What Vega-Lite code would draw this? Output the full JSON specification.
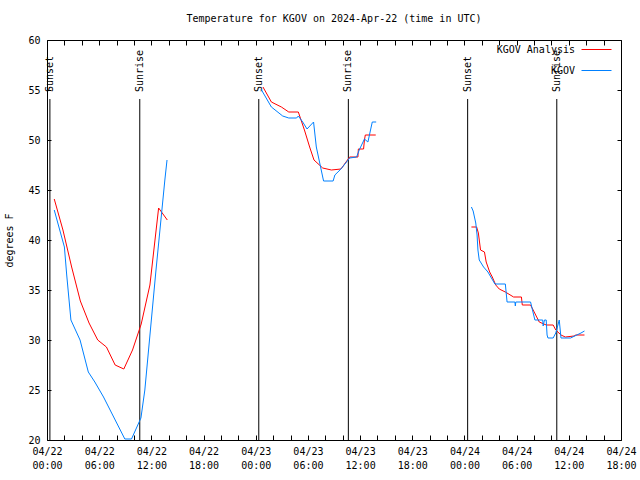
{
  "$schema": "https://vega.github.io/schema/vega-lite/v6.json",
  "autosize": {"type": "none"},
  "padding": {"left": 47, "top": 40, "right": 19, "bottom": 40},
  "width": 574,
  "height": 400,
  "background": "white",
  "title": {"text": "Temperature for KGOV on 2024-Apr-22 (time in UTC)", "font": "DejaVu Sans Mono", "fontSize": 10, "fontWeight": "normal", "color": "black", "offset": 10, "anchor": "middle"},
  "config": {
    "view": {"stroke": "black", "strokeWidth": 1},
    "axis": {"domain": false, "grid": false, "tickColor": "black", "labelColor": "black", "labelFont": "DejaVu Sans Mono", "labelFontSize": 10, "titleFont": "DejaVu Sans Mono", "titleFontSize": 10, "titleFontWeight": "normal", "titleColor": "black"}
  },
  "datasets": {
    "events": [
      {"t": "2024-04-22T00:20:00Z", "label": "Sunset"},
      {"t": "2024-04-22T10:40:00Z", "label": "Sunrise"},
      {"t": "2024-04-23T00:21:00Z", "label": "Sunset"},
      {"t": "2024-04-23T10:39:00Z", "label": "Sunrise"},
      {"t": "2024-04-24T00:22:00Z", "label": "Sunset"},
      {"t": "2024-04-24T10:37:00Z", "label": "Sunrise"}
    ],
    "temps": [
      {"series": "KGOV Analysis", "seg": 1, "t": "2024-04-22T00:50:00Z", "temp": 44.1},
      {"series": "KGOV Analysis", "seg": 1, "t": "2024-04-22T01:50:00Z", "temp": 41.0},
      {"series": "KGOV Analysis", "seg": 1, "t": "2024-04-22T02:50:00Z", "temp": 37.3},
      {"series": "KGOV Analysis", "seg": 1, "t": "2024-04-22T03:50:00Z", "temp": 33.9},
      {"series": "KGOV Analysis", "seg": 1, "t": "2024-04-22T04:50:00Z", "temp": 31.7},
      {"series": "KGOV Analysis", "seg": 1, "t": "2024-04-22T05:50:00Z", "temp": 30.0},
      {"series": "KGOV Analysis", "seg": 1, "t": "2024-04-22T06:50:00Z", "temp": 29.3},
      {"series": "KGOV Analysis", "seg": 1, "t": "2024-04-22T07:50:00Z", "temp": 27.5},
      {"series": "KGOV Analysis", "seg": 1, "t": "2024-04-22T08:50:00Z", "temp": 27.1},
      {"series": "KGOV Analysis", "seg": 1, "t": "2024-04-22T09:50:00Z", "temp": 29.0},
      {"series": "KGOV Analysis", "seg": 1, "t": "2024-04-22T10:50:00Z", "temp": 31.6},
      {"series": "KGOV Analysis", "seg": 1, "t": "2024-04-22T11:50:00Z", "temp": 35.5},
      {"series": "KGOV Analysis", "seg": 1, "t": "2024-04-22T12:50:00Z", "temp": 43.2},
      {"series": "KGOV Analysis", "seg": 1, "t": "2024-04-22T13:50:00Z", "temp": 42.0},

      {"series": "KGOV", "seg": 1, "t": "2024-04-22T00:50:00Z", "temp": 43.0},
      {"series": "KGOV", "seg": 1, "t": "2024-04-22T02:00:00Z", "temp": 39.3},
      {"series": "KGOV", "seg": 1, "t": "2024-04-22T02:16:00Z", "temp": 36.5},
      {"series": "KGOV", "seg": 1, "t": "2024-04-22T02:45:00Z", "temp": 32.0},
      {"series": "KGOV", "seg": 1, "t": "2024-04-22T03:48:00Z", "temp": 30.0},
      {"series": "KGOV", "seg": 1, "t": "2024-04-22T04:45:00Z", "temp": 26.8},
      {"series": "KGOV", "seg": 1, "t": "2024-04-22T05:30:00Z", "temp": 25.8},
      {"series": "KGOV", "seg": 1, "t": "2024-04-22T06:30:00Z", "temp": 24.3},
      {"series": "KGOV", "seg": 1, "t": "2024-04-22T08:57:00Z", "temp": 20.1},
      {"series": "KGOV", "seg": 1, "t": "2024-04-22T09:43:00Z", "temp": 20.1},
      {"series": "KGOV", "seg": 1, "t": "2024-04-22T10:48:00Z", "temp": 22.2},
      {"series": "KGOV", "seg": 1, "t": "2024-04-22T11:15:00Z", "temp": 25.0},
      {"series": "KGOV", "seg": 1, "t": "2024-04-22T12:30:00Z", "temp": 36.7},
      {"series": "KGOV", "seg": 1, "t": "2024-04-22T13:33:00Z", "temp": 46.0},
      {"series": "KGOV", "seg": 1, "t": "2024-04-22T13:48:00Z", "temp": 48.0},

      {"series": "KGOV Analysis", "seg": 2, "t": "2024-04-23T00:50:00Z", "temp": 55.3},
      {"series": "KGOV Analysis", "seg": 2, "t": "2024-04-23T01:48:00Z", "temp": 53.8},
      {"series": "KGOV Analysis", "seg": 2, "t": "2024-04-23T02:57:00Z", "temp": 53.3},
      {"series": "KGOV Analysis", "seg": 2, "t": "2024-04-23T03:48:00Z", "temp": 52.8},
      {"series": "KGOV Analysis", "seg": 2, "t": "2024-04-23T04:54:00Z", "temp": 52.8},
      {"series": "KGOV Analysis", "seg": 2, "t": "2024-04-23T05:36:00Z", "temp": 51.0},
      {"series": "KGOV Analysis", "seg": 2, "t": "2024-04-23T06:12:00Z", "temp": 49.3},
      {"series": "KGOV Analysis", "seg": 2, "t": "2024-04-23T06:42:00Z", "temp": 48.0},
      {"series": "KGOV Analysis", "seg": 2, "t": "2024-04-23T07:42:00Z", "temp": 47.2},
      {"series": "KGOV Analysis", "seg": 2, "t": "2024-04-23T08:42:00Z", "temp": 47.0},
      {"series": "KGOV Analysis", "seg": 2, "t": "2024-04-23T09:48:00Z", "temp": 47.1},
      {"series": "KGOV Analysis", "seg": 2, "t": "2024-04-23T10:48:00Z", "temp": 48.3},
      {"series": "KGOV Analysis", "seg": 2, "t": "2024-04-23T11:45:00Z", "temp": 48.3},
      {"series": "KGOV Analysis", "seg": 2, "t": "2024-04-23T11:48:00Z", "temp": 49.1},
      {"series": "KGOV Analysis", "seg": 2, "t": "2024-04-23T12:24:00Z", "temp": 49.1},
      {"series": "KGOV Analysis", "seg": 2, "t": "2024-04-23T12:30:00Z", "temp": 50.0},
      {"series": "KGOV Analysis", "seg": 2, "t": "2024-04-23T12:36:00Z", "temp": 50.5},
      {"series": "KGOV Analysis", "seg": 2, "t": "2024-04-23T13:48:00Z", "temp": 50.5},

      {"series": "KGOV", "seg": 2, "t": "2024-04-23T00:36:00Z", "temp": 55.1},
      {"series": "KGOV", "seg": 2, "t": "2024-04-23T01:48:00Z", "temp": 53.3},
      {"series": "KGOV", "seg": 2, "t": "2024-04-23T03:06:00Z", "temp": 52.4},
      {"series": "KGOV", "seg": 2, "t": "2024-04-23T03:48:00Z", "temp": 52.2},
      {"series": "KGOV", "seg": 2, "t": "2024-04-23T04:42:00Z", "temp": 52.2},
      {"series": "KGOV", "seg": 2, "t": "2024-04-23T04:54:00Z", "temp": 52.4},
      {"series": "KGOV", "seg": 2, "t": "2024-04-23T05:24:00Z", "temp": 51.8},
      {"series": "KGOV", "seg": 2, "t": "2024-04-23T05:54:00Z", "temp": 51.1},
      {"series": "KGOV", "seg": 2, "t": "2024-04-23T06:39:00Z", "temp": 51.8},
      {"series": "KGOV", "seg": 2, "t": "2024-04-23T06:58:00Z", "temp": 49.3},
      {"series": "KGOV", "seg": 2, "t": "2024-04-23T07:48:00Z", "temp": 45.9},
      {"series": "KGOV", "seg": 2, "t": "2024-04-23T08:54:00Z", "temp": 45.9},
      {"series": "KGOV", "seg": 2, "t": "2024-04-23T09:06:00Z", "temp": 46.5},
      {"series": "KGOV", "seg": 2, "t": "2024-04-23T09:48:00Z", "temp": 47.1},
      {"series": "KGOV", "seg": 2, "t": "2024-04-23T10:48:00Z", "temp": 48.2},
      {"series": "KGOV", "seg": 2, "t": "2024-04-23T11:36:00Z", "temp": 48.3},
      {"series": "KGOV", "seg": 2, "t": "2024-04-23T11:54:00Z", "temp": 49.0},
      {"series": "KGOV", "seg": 2, "t": "2024-04-23T12:30:00Z", "temp": 50.1},
      {"series": "KGOV", "seg": 2, "t": "2024-04-23T12:54:00Z", "temp": 49.8},
      {"series": "KGOV", "seg": 2, "t": "2024-04-23T13:24:00Z", "temp": 51.8},
      {"series": "KGOV", "seg": 2, "t": "2024-04-23T13:51:00Z", "temp": 51.8},

      {"series": "KGOV Analysis", "seg": 3, "t": "2024-04-24T00:48:00Z", "temp": 41.3},
      {"series": "KGOV Analysis", "seg": 3, "t": "2024-04-24T01:24:00Z", "temp": 41.3},
      {"series": "KGOV Analysis", "seg": 3, "t": "2024-04-24T01:36:00Z", "temp": 40.7},
      {"series": "KGOV Analysis", "seg": 3, "t": "2024-04-24T01:51:00Z", "temp": 39.0},
      {"series": "KGOV Analysis", "seg": 3, "t": "2024-04-24T02:18:00Z", "temp": 38.8},
      {"series": "KGOV Analysis", "seg": 3, "t": "2024-04-24T02:30:00Z", "temp": 37.8},
      {"series": "KGOV Analysis", "seg": 3, "t": "2024-04-24T02:54:00Z", "temp": 36.8},
      {"series": "KGOV Analysis", "seg": 3, "t": "2024-04-24T03:12:00Z", "temp": 36.3},
      {"series": "KGOV Analysis", "seg": 3, "t": "2024-04-24T03:36:00Z", "temp": 35.5},
      {"series": "KGOV Analysis", "seg": 3, "t": "2024-04-24T04:00:00Z", "temp": 35.1},
      {"series": "KGOV Analysis", "seg": 3, "t": "2024-04-24T04:42:00Z", "temp": 34.8},
      {"series": "KGOV Analysis", "seg": 3, "t": "2024-04-24T05:39:00Z", "temp": 34.3},
      {"series": "KGOV Analysis", "seg": 3, "t": "2024-04-24T06:33:00Z", "temp": 34.3},
      {"series": "KGOV Analysis", "seg": 3, "t": "2024-04-24T06:39:00Z", "temp": 33.5},
      {"series": "KGOV Analysis", "seg": 3, "t": "2024-04-24T07:36:00Z", "temp": 33.5},
      {"series": "KGOV Analysis", "seg": 3, "t": "2024-04-24T07:54:00Z", "temp": 33.0},
      {"series": "KGOV Analysis", "seg": 3, "t": "2024-04-24T08:36:00Z", "temp": 31.8},
      {"series": "KGOV Analysis", "seg": 3, "t": "2024-04-24T09:24:00Z", "temp": 31.5},
      {"series": "KGOV Analysis", "seg": 3, "t": "2024-04-24T10:12:00Z", "temp": 31.5},
      {"series": "KGOV Analysis", "seg": 3, "t": "2024-04-24T10:30:00Z", "temp": 31.0},
      {"series": "KGOV Analysis", "seg": 3, "t": "2024-04-24T11:06:00Z", "temp": 30.5},
      {"series": "KGOV Analysis", "seg": 3, "t": "2024-04-24T11:36:00Z", "temp": 30.3},
      {"series": "KGOV Analysis", "seg": 3, "t": "2024-04-24T12:36:00Z", "temp": 30.4},
      {"series": "KGOV Analysis", "seg": 3, "t": "2024-04-24T12:48:00Z", "temp": 30.5},
      {"series": "KGOV Analysis", "seg": 3, "t": "2024-04-24T13:48:00Z", "temp": 30.5},

      {"series": "KGOV", "seg": 3, "t": "2024-04-24T00:48:00Z", "temp": 43.3},
      {"series": "KGOV", "seg": 3, "t": "2024-04-24T01:00:00Z", "temp": 42.9},
      {"series": "KGOV", "seg": 3, "t": "2024-04-24T01:18:00Z", "temp": 41.7},
      {"series": "KGOV", "seg": 3, "t": "2024-04-24T01:27:00Z", "temp": 40.5},
      {"series": "KGOV", "seg": 3, "t": "2024-04-24T01:33:00Z", "temp": 39.0},
      {"series": "KGOV", "seg": 3, "t": "2024-04-24T01:42:00Z", "temp": 38.0},
      {"series": "KGOV", "seg": 3, "t": "2024-04-24T02:12:00Z", "temp": 37.3},
      {"series": "KGOV", "seg": 3, "t": "2024-04-24T02:42:00Z", "temp": 36.8},
      {"series": "KGOV", "seg": 3, "t": "2024-04-24T03:06:00Z", "temp": 36.2},
      {"series": "KGOV", "seg": 3, "t": "2024-04-24T03:30:00Z", "temp": 35.6},
      {"series": "KGOV", "seg": 3, "t": "2024-04-24T04:42:00Z", "temp": 35.6},
      {"series": "KGOV", "seg": 3, "t": "2024-04-24T04:54:00Z", "temp": 33.8},
      {"series": "KGOV", "seg": 3, "t": "2024-04-24T05:48:00Z", "temp": 33.8},
      {"series": "KGOV", "seg": 3, "t": "2024-04-24T05:51:00Z", "temp": 33.4},
      {"series": "KGOV", "seg": 3, "t": "2024-04-24T05:54:00Z", "temp": 33.8},
      {"series": "KGOV", "seg": 3, "t": "2024-04-24T07:36:00Z", "temp": 33.8},
      {"series": "KGOV", "seg": 3, "t": "2024-04-24T08:06:00Z", "temp": 32.0},
      {"series": "KGOV", "seg": 3, "t": "2024-04-24T09:00:00Z", "temp": 32.0},
      {"series": "KGOV", "seg": 3, "t": "2024-04-24T09:03:00Z", "temp": 31.4},
      {"series": "KGOV", "seg": 3, "t": "2024-04-24T09:12:00Z", "temp": 32.0},
      {"series": "KGOV", "seg": 3, "t": "2024-04-24T09:24:00Z", "temp": 32.0},
      {"series": "KGOV", "seg": 3, "t": "2024-04-24T09:30:00Z", "temp": 30.5},
      {"series": "KGOV", "seg": 3, "t": "2024-04-24T09:36:00Z", "temp": 30.2},
      {"series": "KGOV", "seg": 3, "t": "2024-04-24T10:12:00Z", "temp": 30.2},
      {"series": "KGOV", "seg": 3, "t": "2024-04-24T10:30:00Z", "temp": 30.7},
      {"series": "KGOV", "seg": 3, "t": "2024-04-24T10:54:00Z", "temp": 32.0},
      {"series": "KGOV", "seg": 3, "t": "2024-04-24T11:06:00Z", "temp": 30.2},
      {"series": "KGOV", "seg": 3, "t": "2024-04-24T12:12:00Z", "temp": 30.2},
      {"series": "KGOV", "seg": 3, "t": "2024-04-24T13:24:00Z", "temp": 30.7},
      {"series": "KGOV", "seg": 3, "t": "2024-04-24T13:48:00Z", "temp": 30.9}
    ]
  },
  "layer": [
    {
      "data": {"name": "events"},
      "mark": {"type": "rule", "color": "black", "strokeWidth": 1},
      "encoding": {
        "x": {"field": "t", "type": "temporal",
              "scale": {"type": "utc", "domain": [1713744000000, 1713981600000]},
              "axis": {"orient": "top", "labels": false, "title": null, "tickSize": -5,
                       "values": [1713744000000, 1713751200000, 1713758400000, 1713765600000, 1713772800000, 1713780000000, 1713787200000, 1713794400000, 1713801600000, 1713808800000, 1713816000000, 1713823200000, 1713830400000, 1713837600000, 1713844800000, 1713852000000, 1713859200000, 1713866400000, 1713873600000, 1713880800000, 1713888000000, 1713895200000, 1713902400000, 1713909600000, 1713916800000, 1713924000000, 1713931200000, 1713938400000, 1713945600000, 1713952800000, 1713960000000, 1713967200000, 1713974400000, 1713981600000]}},
        "y": {"datum": 54.1, "type": "quantitative",
              "scale": {"domain": [20, 60], "nice": false, "zero": false},
              "axis": {"orient": "right", "labels": false, "title": null, "tickSize": -4, "values": [20, 25, 30, 35, 40, 45, 50, 55, 60]}},
        "y2": {"datum": 20}
      }
    },
    {
      "data": {"name": "events"},
      "mark": {"type": "text", "angle": 270, "align": "left", "baseline": "middle", "font": "DejaVu Sans Mono", "fontSize": 10, "color": "black"},
      "encoding": {
        "x": {"field": "t", "type": "temporal", "axis": null},
        "y": {"datum": 54.8, "type": "quantitative", "axis": null},
        "text": {"field": "label"}
      }
    },
    {
      "data": {"name": "temps"},
      "mark": {"type": "line", "strokeWidth": 1},
      "encoding": {
        "x": {"field": "t", "type": "temporal",
              "axis": {"orient": "bottom", "title": null, "tickSize": -5, "labelPadding": 11, "labelFlush": false, "labelOverlap": false, "labelLineHeight": 14,
                       "values": [1713744000000, 1713751200000, 1713758400000, 1713765600000, 1713772800000, 1713780000000, 1713787200000, 1713794400000, 1713801600000, 1713808800000, 1713816000000, 1713823200000, 1713830400000, 1713837600000, 1713844800000, 1713852000000, 1713859200000, 1713866400000, 1713873600000, 1713880800000, 1713888000000, 1713895200000, 1713902400000, 1713909600000, 1713916800000, 1713924000000, 1713931200000, 1713938400000, 1713945600000, 1713952800000, 1713960000000, 1713967200000, 1713974400000, 1713981600000],
                       "labelExpr": "utchours(datum.value) % 6 == 0 ? [utcFormat(datum.value, '%m/%d'), utcFormat(datum.value, '%H:%M')] : ''"}},
        "y": {"field": "temp", "type": "quantitative",
              "axis": {"orient": "left", "title": "degrees F", "tickSize": -4, "labelPadding": 11, "titlePadding": 13, "values": [20, 25, 30, 35, 40, 45, 50, 55, 60]}},
        "color": {"field": "series", "type": "nominal",
                  "scale": {"domain": ["KGOV Analysis", "KGOV"], "range": ["#ff0000", "#0080ff"]},
                  "legend": {"orient": "none", "legendX": 534, "legendY": -6, "title": null, "padding": 0,
                             "symbolType": "stroke", "symbolSize": 900, "symbolStrokeWidth": 1,
                             "labelAlign": "right", "labelOffset": -37, "rowPadding": -26,
                             "labelFont": "DejaVu Sans Mono", "labelFontSize": 10, "labelColor": "black"}},
        "detail": {"field": "seg", "type": "nominal"},
        "order": {"field": "t", "type": "temporal"}
      }
    }
  ],
  "resolve": {"axis": {"x": "independent", "y": "independent"}}
}
